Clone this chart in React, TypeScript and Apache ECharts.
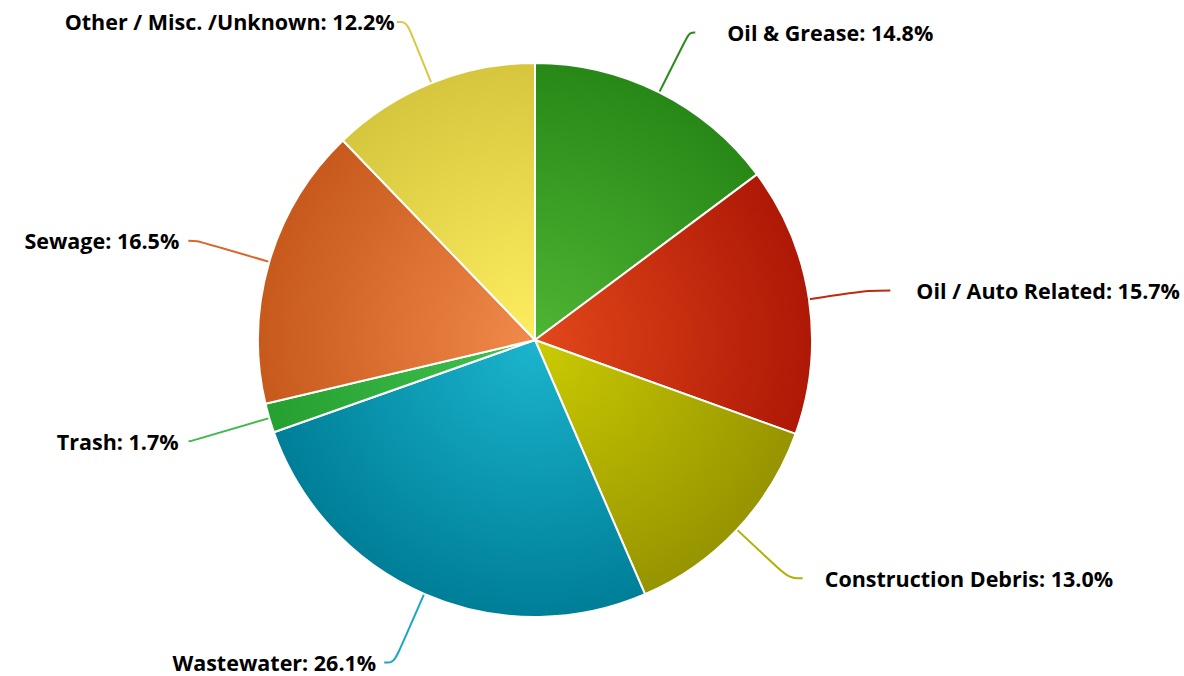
import React, { useEffect, useRef } from "react";
import * as echarts from "echarts";

const categories = [
  "Oil & Grease",
  "Oil / Auto Related",
  "Construction Debris",
  "Wastewater",
  "Trash",
  "Sewage",
  "Other / Misc. /Unknown",
];
const values = [14.8, 15.7, 13.0, 26.1, 1.7, 16.5, 12.2];
const lightColors = ["#4fb534", "#e2481a", "#cbcb02", "#1bb5cd", "#42c352", "#f08a4a", "#fdee60"];
const darkColors = ["#288817", "#ae1806", "#969400", "#007e98", "#26a030", "#c7591c", "#d6c63e"];
const lineColors = ["#2a8a1a", "#c02a0c", "#b0b000", "#18a8c4", "#3cba4a", "#d8682a", "#d8c840"];
const lineLengths = [67, 60, 71, 75, 82, 75, 66];
const lineLengths2 = [6, 22, 14, 10, 2, 9, 10];
const labelGaps = [32, 26, 22, 8, 10, 9, 2];

export default function App() {
  const ref = useRef<HTMLDivElement>(null);
  useEffect(() => {
    if (!ref.current) return;
    const chart = echarts.init(ref.current, undefined, { renderer: "svg" });
    const cx = 535;
    const cy = 340;
    const R = 277;
    const data = categories.map((name, i) => ({
      name,
      value: values[i],
      itemStyle: {
        color: new echarts.graphic.RadialGradient(
          cx,
          cy,
          R,
          [
            { offset: 0, color: lightColors[i] },
            { offset: 1, color: darkColors[i] },
          ],
          true
        ),
      },
      label: { distanceToLabelLine: labelGaps[i] },
      labelLine: {
        length: lineLengths[i],
        length2: lineLengths2[i],
        lineStyle: { color: lineColors[i], width: 2 },
      },
    }));
    chart.setOption({
      animation: false,
      backgroundColor: "#ffffff",
      series: [
        {
          type: "pie",
          center: [cx, cy],
          radius: R,
          startAngle: 90,
          clockwise: true,
          avoidLabelOverlap: false,
          itemStyle: { borderColor: "#ffffff", borderWidth: 2 },
          label: {
            show: true,
            position: "outside",
            alignTo: "none",
            formatter: (p: any) => `${p.name}: ${p.value.toFixed(1)}%`,
            fontFamily: "Open Sans",
            fontWeight: "bold",
            fontSize: 21.5,
            color: "#000000",
          },
          labelLine: { show: true, smooth: 0.4 },
          emphasis: { disabled: true },
          data,
        },
      ],
    });
    return () => chart.dispose();
  }, []);
  return (
    <div
      ref={ref}
      style={{ position: "fixed", left: 0, top: 0, width: 1184, height: 676 }}
    />
  );
}
